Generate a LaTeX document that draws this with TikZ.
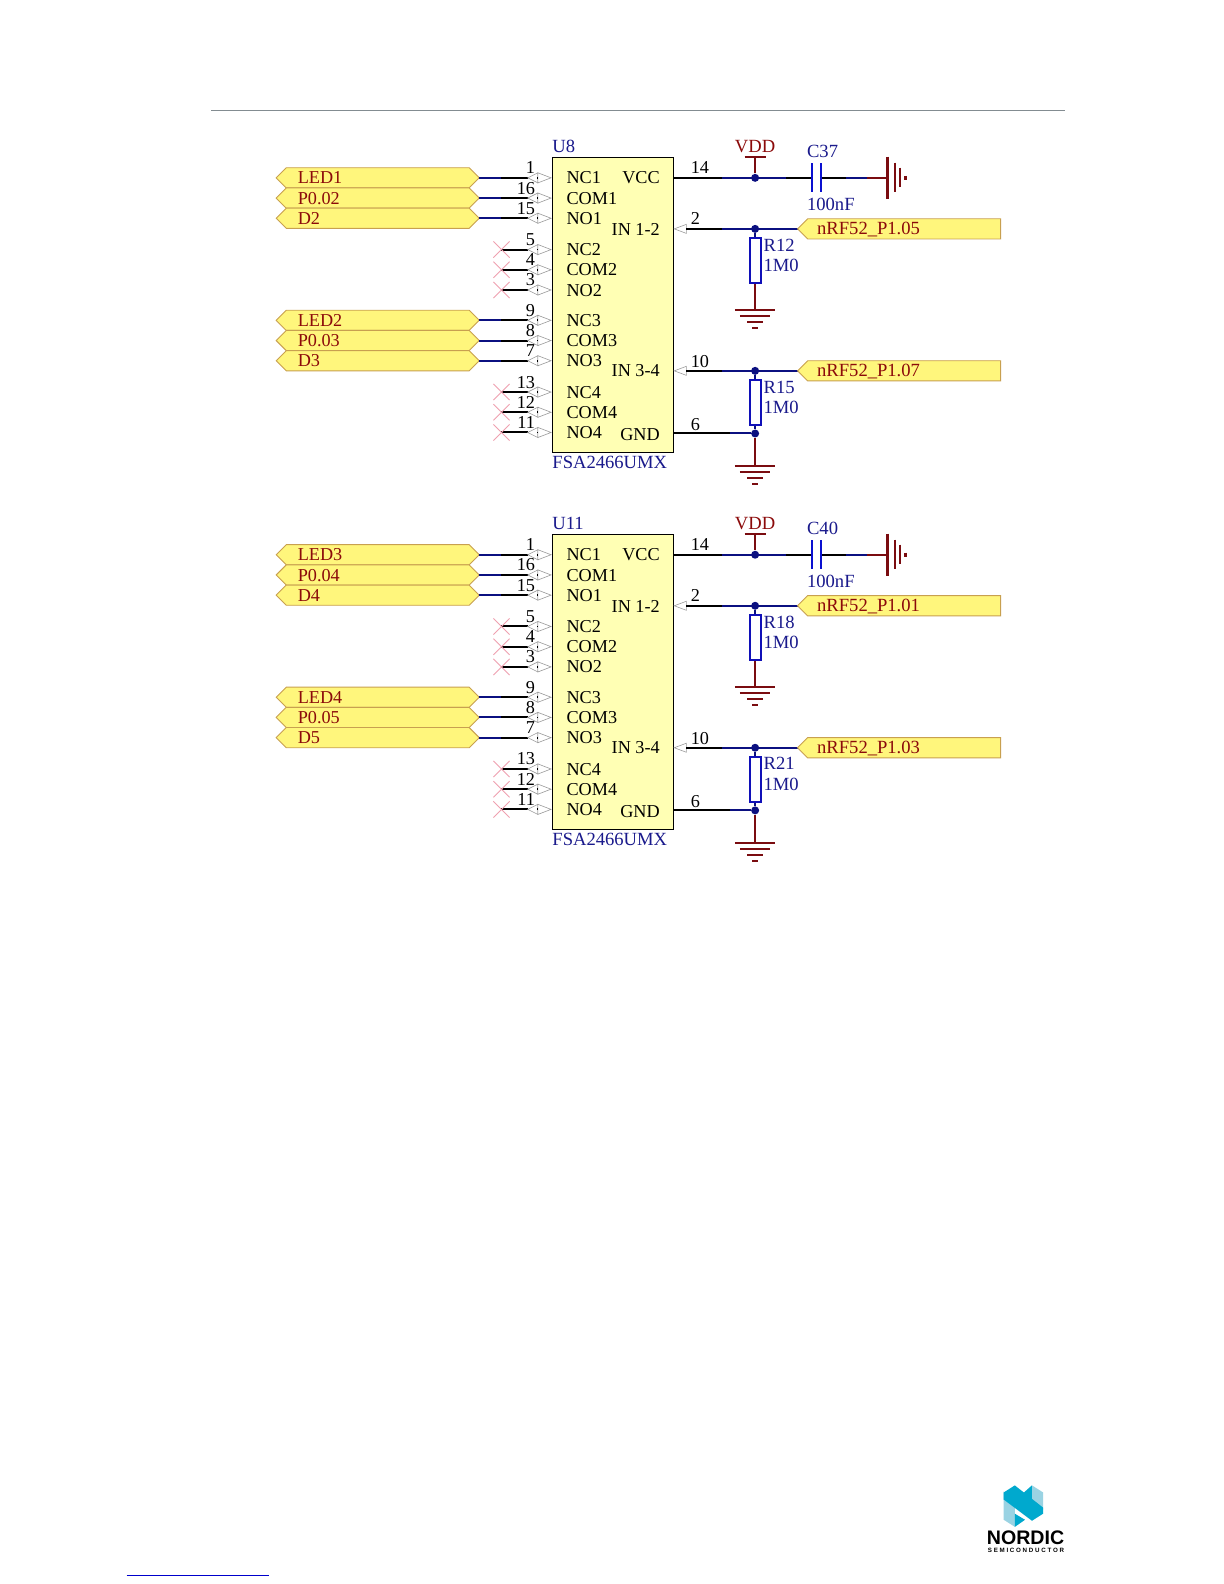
\documentclass[tikz,border=0pt]{standalone}
\usepackage{fontspec}
\setmainfont{Liberation Serif}
\definecolor{wnavy}{HTML}{0B1080}
\definecolor{lblue}{HTML}{1A1A8C}
\definecolor{mar}{HTML}{7A0C10}
\definecolor{txtred}{HTML}{8B0A0A}
\definecolor{portfill}{HTML}{FFF67C}
\definecolor{portline}{HTML}{C8A050}
\definecolor{boxfill}{HTML}{FFFFB4}
\definecolor{xpink}{HTML}{EFA0B0}
\definecolor{pingray}{HTML}{9A9A9A}
\definecolor{capblue}{HTML}{0A10D0}
\definecolor{resblue}{HTML}{1010B8}
\definecolor{nlight}{HTML}{9AD3E3}
\definecolor{ndark}{HTML}{00A9CE}
\tikzset{
  txt/.style={inner sep=0pt,anchor=base west,font=\fontsize{9.1}{10}\selectfont},
  txtr/.style={inner sep=0pt,anchor=base east,font=\fontsize{9.1}{10}\selectfont},
  txtc/.style={inner sep=0pt,anchor=base,font=\fontsize{9.1}{10}\selectfont},
  blab/.style={txt,text=lblue,font=\fontsize{9.3}{10}\selectfont},
  plab/.style={txt,text=txtred},
  netlab/.style={txt,text=txtred,font=\fontsize{9.3}{10}\selectfont},
  portbox/.style={fill=portfill,draw=portline,line width=0.45pt},
  wireb/.style={black,line width=1pt},
  wiren/.style={wnavy,line width=1pt},
  wirem/.style={mar,line width=1pt},
  pinshape/.style={draw=pingray,fill=white,line width=0.3pt},
  junc/.style={circle,fill=wnavy,inner sep=0pt,minimum size=4pt},
  xmark/.style={xpink,line width=0.45pt},
}
\newcommand{\GndSym}[1]{%
  \draw[wirem] (#1) ++(-20,0) -- ++(40,0);
  \draw[wirem] (#1) ++(-15,6) -- ++(30,0);
  \draw[wirem] (#1) ++(-8,12) -- ++(16,0);
  \draw[wirem] (#1) ++(-3,18) -- ++(6,0);
}
\newcommand{\Block}[8]{% prefix, yshift, ref, cap, R1, net1, R2, net2
\begin{scope}[shift={(0,#2)}]
  % chip
  \node[draw=black,fill=boxfill,line width=0.6pt,minimum width=60.6pt,minimum height=147.5pt,inner sep=0pt] (#1box) at (607.5,302) {};
  \node[blab] (#1ref) at (547,151) {#3};
  \node[blab] (#1part) at (547,464) {FSA2466UMX};
  % left ports
  \foreach \y/\t/\n in {176/LED/a,196/P/b,216/D/c,317/LEDb/d,337/Pb/e,357/Db/f}{
    \draw[portbox] (284,\y-10) -- (465,\y-10) -- (475,\y) -- (465,\y+10) -- (284,\y+10) -- (274,\y) -- cycle;
    \coordinate (#1tip\n) at (475,\y);
    \coordinate (#1mid\n) at (497,\y);
    \coordinate (#1pin\n) at (523,\y);
    \draw[wiren] (#1tip\n) -- (#1mid\n);
    \draw[wireb] (#1mid\n) -- (#1pin\n);
  }
  % unconnected pins
  \foreach \y/\n in {247/g,267/h,287/i,388/j,408/k,428/l}{
    \coordinate (#1mid\n) at (497,\y);
    \coordinate (#1pin\n) at (523,\y);
    \draw[wireb] (#1mid\n) -- (#1pin\n);
    \draw[xmark] (#1mid\n) ++(-8,-8) -- ++(16,16);
    \draw[xmark] (#1mid\n) ++(-8,8) -- ++(16,-16);
  }
  % pin symbols, numbers, names
  \foreach \y/\num/\name in {176/1/NC1,196/16/COM1,216/15/NO1,247/5/NC2,267/4/COM2,287/3/NO2,317/9/NC3,337/8/COM3,357/7/NO3,388/13/NC4,408/12/COM4,428/11/NO4}{
    \draw[pinshape] (523,\y) -- (533,\y-5) -- (533,\y+5) -- cycle;
    \draw[pinshape] (546,\y) -- (533,\y-5) -- (533,\y+5) -- cycle;
    \fill[black] (532.6,\y-0.9) rectangle (533.6,\y+0.9);
    \node[txtr] (#1n\num) at (530.5,\y-4) {\num};
    \node[txt] (#1t\num) at (561,\y+6) {\name};
  }
  % right pin texts
  \node[txtr] (#1vcc) at (654,182) {VCC};
  \node[txtr] (#1ina) at (654,233) {IN 1-2};
  \node[txtr] (#1inb) at (654,373) {IN 3-4};
  \node[txtr] (#1gnd) at (654,436) {GND};
  \node[txt] (#1n14) at (684,172) {14};
  \node[txt] (#1n2) at (684,222) {2};
  \node[txt] (#1n10) at (684,364) {10};
  \node[txt] (#1n6) at (684,426) {6};
  % VCC net
  \node[junc] (#1jv) at (748,176) {};
  \coordinate (#1v0) at (668,176);
  \coordinate (#1v1) at (715,176);
  \coordinate (#1v2) at (779,176);
  \coordinate (#1c1) at (804,176);
  \coordinate (#1c2) at (813,176);
  \coordinate (#1v3) at (838,176);
  \coordinate (#1v4) at (859,176);
  \coordinate (#1e) at (879,176);
  \draw[wireb] (#1v0) -- (#1v1);
  \draw[wiren] (#1v1) -- (#1v2);
  \draw[wireb] (#1v2) -- (#1c1);
  \draw[wireb] (#1c2) -- (#1v3);
  \draw[wiren] (#1v3) -- (#1v4);
  \draw[wirem] (#1v4) -- (#1e);
  \draw[capblue,line width=1.1pt] (#1c1) ++(0,-14.5) -- ++(0,29);
  \draw[capblue,line width=1.1pt] (#1c2) ++(0,-14.5) -- ++(0,29);
  \node[blab] (#1cn) at (799,155.5) {#4};
  \node[blab] (#1cv) at (799,208) {100nF};
  \draw[wirem,line width=1.2pt] (#1e) ++(0,-21) -- ++(0,42);
  \draw[wirem] (886,161) -- (886,190);
  \draw[wirem] (891,166) -- (891,185);
  \draw[wirem,line width=1.3pt] (897,174) -- (897,178);
  % VDD
  \coordinate (#1vdd) at (748,155.5);
  \draw[wirem] (#1jv) -- (#1vdd);
  \draw[wirem] (737.5,155.5) -- (759,155.5);
  \node[txtc,text=txtred,font=\fontsize{9.3}{10}\selectfont] (#1vddt) at (748,151) {VDD};
  % input nets
  \foreach \y/\sub/\net/\rr in {226.5/a/#6/#5,367/b/#8/#7}{
    \draw[pinshape] (668,\y) -- (680,\y-4.5) -- (680,\y+4.5) -- cycle;
    \coordinate (#1i0\sub) at (680,\y);
    \coordinate (#1i1\sub) at (715,\y);
    \node[junc] (#1ji\sub) at (748,\y) {};
    \coordinate (#1tp\sub) at (790,\y);
    \draw[wireb] (#1i0\sub) -- (#1i1\sub);
    \draw[wiren] (#1i1\sub) -- (#1tp\sub);
    \draw[portbox] (#1tp\sub) -- (800,\y-10) -- (991,\y-10) -- (991,\y+10) -- (800,\y+10) -- cycle;
    \node[netlab] (#1pt\sub) at (809,\y+6) {\net};
    \node[draw=resblue,line width=1pt,fill=white,minimum width=5.4pt,minimum height=22.4pt,inner sep=0pt,anchor=north] (#1r\sub) at (748,\y+8) {};
    \draw[wiren] (#1ji\sub) -- (#1r\sub.north);
    \node[blab] (#1rn\sub) at (756,\y+22) {\rr};
    \node[blab] (#1rv\sub) at (756,\y+42) {1M0};
  }
  % ground under R(a)
  \coordinate (#1ga) at (748,307);
  \draw[wirem] (#1ra.south) -- (#1ga);
  \GndSym{#1ga}
  % GND net
  \coordinate (#1g0) at (668,429);
  \coordinate (#1g1) at (723,429);
  \node[junc] (#1jg) at (748,429) {};
  \draw[wireb] (#1g0) -- (#1g1);
  \draw[wiren] (#1g1) -- (#1jg);
  \draw[wiren] (#1rb.south) -- (#1jg);
  \coordinate (#1gb) at (748,461);
  \draw[wirem] (#1jg) -- (#1gb);
  \GndSym{#1gb}
\end{scope}
}
\newcommand{\PortTexts}[8]{%
  \foreach \y/\t/\n in {176/#2/a,196/#3/b,216/#4/c,317/#5/d,337/#6/e,357/#7/f}{
    \node[plab] (#1lab\n) at (295,#8+\y+6) {\t};
  }
}
\begin{document}
\begin{tikzpicture}[x=0.5053pt,y=-0.5053pt]
\useasboundingbox (0.7,0) rectangle (1212,1567.6);
\fill[white] (0.7,0) rectangle (1212,1567.6);
\draw[color=black!45!cyan!20!gray,line width=0.4pt] (210,109) -- (1055,109);
\Block{u}{0}{U8}{C37}{R12}{nRF52\_P1.05}{R15}{nRF52\_P1.07}
\PortTexts{u}{LED1}{P0.02}{D2}{LED2}{P0.03}{D3}{0}
\Block{w}{373}{U11}{C40}{R18}{nRF52\_P1.01}{R21}{nRF52\_P1.03}
\PortTexts{w}{LED3}{P0.04}{D4}{LED4}{P0.05}{D5}{373}
% footer link line
\draw[blue!80!black,line width=0.5pt] (126,1559) -- (267,1559);
% logo
\begin{scope}[shift={(994,1470)}]
  \fill[nlight] (0,6) -- (0,34) -- (11,41) -- (11,20) -- cycle;
  \fill[nlight] (11,33) -- (11,41) -- (21,34) -- cycle;
  \fill[nlight] (19,8) -- (28,0) -- (39,7) -- (39,24) -- (28,18) -- cycle;
  \fill[ndark] (0,7) -- (11,0) -- (39,22) -- (39,28) -- (28,35) -- (0,14) -- cycle;
  \fill[ndark] (11,28) -- (21,34) -- (11,41) -- cycle;
  \fill[ndark] (19,8) -- (28,0) -- (28,16) -- cycle;
\end{scope}
\node[inner sep=0pt,anchor=base west,font=\fontsize{9.8}{10}\selectfont\fontspec{Liberation Sans}\bfseries] (nord) at (977,1528) {NORDIC};
\node[inner sep=0pt,anchor=base west,font=\fontsize{3.1}{4}\selectfont\fontspec{Liberation Sans}\bfseries] (semi) at (978,1536.5) {S E M I C O N D U C T O R};
\end{tikzpicture}
\end{document}
